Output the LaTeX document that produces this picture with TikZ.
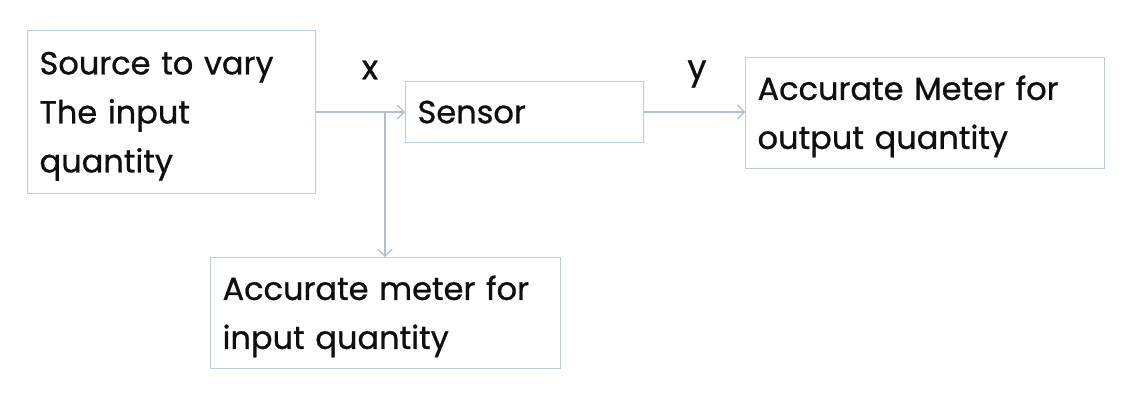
\documentclass[tikz,border=0pt]{standalone}
\usepackage{fontspec}
\setmainfont{Poppins}
\newfontfamily\blkfont{Poppins}[FakeBold=0.8]
\usetikzlibrary{arrows.meta}
\definecolor{boxline}{RGB}{188,202,222}
\definecolor{conline}{RGB}{172,192,216}
\definecolor{txt}{RGB}{15,15,15}
\newcommand{\topstrut}{\rule{0pt}{31pt}}
\tikzset{
  blk/.style={draw=boxline, line width=1.2pt, align=left, anchor=north west,
    inner xsep=12pt, inner ysep=0pt, text=txt,
    font=\blkfont\fontsize{32}{49}\selectfont},
  con/.style={draw=conline, line width=1.2pt, -{Straight Barb[length=7pt,width=14pt,line width=1.2pt]}},
  lbl/.style={text=txt, font=\blkfont\fontsize{34}{36}\selectfont, inner sep=0pt}
}
\begin{document}
\begin{tikzpicture}[x=1pt,y=-1pt]
\useasboundingbox[fill=white] (0,0) rectangle (1122,400);
\node[blk, minimum width=288pt, minimum height=163pt, text width=264pt] (src) at (27,30) {\topstrut Source to vary\\The input\\quantity};
\node[blk, minimum width=238pt, minimum height=61pt, text width=214pt] (sen) at (405,81) {Sensor};
\node[blk, minimum width=359pt, minimum height=111pt, text width=335pt] (out) at (745,57) {\topstrut Accurate Meter for\\output quantity};
\node[blk, minimum width=350pt, minimum height=111pt, text width=326pt] (inm) at (210,257) {\topstrut Accurate meter for\\input quantity};
\coordinate (j) at (385,112);
\draw[con] (src.east |- j) -- (sen.west |- j);
\draw[con] (j) -- (inm.north -| j);
\draw[con] (sen.east |- j) -- (out.west |- j);
\node[lbl] (xl) at (370,70) {x};
\node[lbl] (yl) at (697,74) {y};
\end{tikzpicture}
\end{document}
